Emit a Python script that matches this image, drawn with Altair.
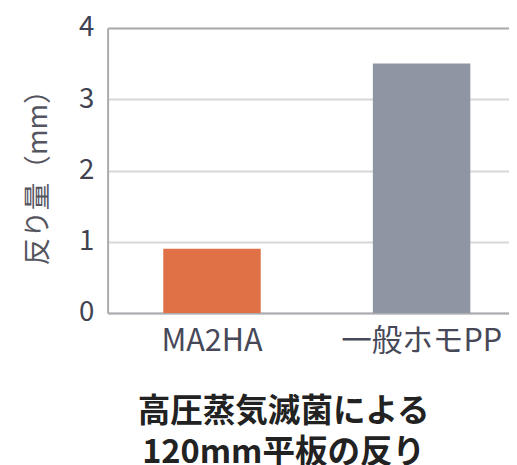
import altair as alt
import pandas as pd

categories = ["MA2HA", "一般ホモPP"]
values = [0.9, 3.5]
colors = ["#E07045", "#8E95A3"]
y_ticks = [0, 1, 2, 3, 4]
title_lines = ["高圧蒸気滅菌による", "120mm平板の反り"]

df = pd.DataFrame({"cat": categories, "val": values, "color": colors})
FONT = "Noto Sans CJK JP"

bars = alt.Chart(df).mark_bar().encode(
    x=alt.X("cat:N", sort=categories,
            scale=alt.Scale(paddingInner=0.535, paddingOuter=0.225, align=0.59),
            axis=alt.Axis(title=None, labelAngle=0, labelFontSize=31, labelFont=FONT,
                          labelColor="#464858", ticks=False, domainColor="#ABABAF",
                          domainWidth=2, labelPadding=14)),
    y=alt.Y("val:Q", scale=alt.Scale(domain=[0, 4]),
            axis=alt.Axis(values=y_ticks, format="d", title="反り量（mm）", titleFontSize=28,
                          titleFont=FONT, titleFontWeight="normal", titleColor="#55555F",
                          titlePadding=26, labelFontSize=28, labelFont=FONT,
                          labelColor="#404252", ticks=False, labelPadding=14,
                          domainColor="#ABABAF", domainWidth=2,
                          gridColor={"condition": {"test": "datum.value == 4", "value": "#A8A8AC"},
                                     "value": "#D8D8D8"},
                          gridWidth=2)),
    color=alt.Color("color:N", scale=None),
)

chart = bars.properties(
    width=407, height=289,
    autosize=alt.AutoSizeParams(type="none"),
    padding={"left": 101, "top": 17, "right": 0, "bottom": 152},
    title=alt.TitleParams(text=title_lines, orient="bottom", fontSize=33, font=FONT,
                          fontWeight="bold", color="#222222", lineHeight=41,
                          offset=41, dx=-25),
).configure_view(stroke=None)

chart.save("out.html", embed_options={"renderer": "svg", "actions": False})
